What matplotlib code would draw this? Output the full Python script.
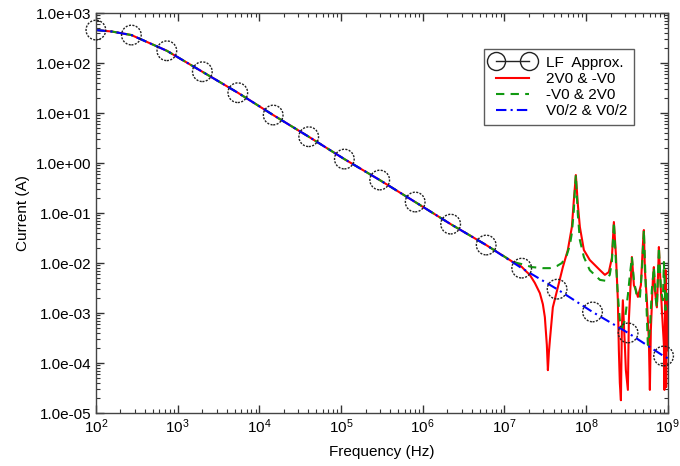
import numpy as np
import matplotlib
matplotlib.use("Agg")
import matplotlib.pyplot as plt
from matplotlib.lines import Line2D
from matplotlib.ticker import FuncFormatter, LogLocator, NullFormatter

plt.rcParams['font.family'] = ['Liberation Sans', 'DejaVu Sans']

# LF approximation (circles)
lf_freq = [100, 272, 739, 2010, 5460, 1.48e4, 4.03e4, 1.10e5, 2.98e5, 8.10e5,
           2.20e6, 5.99e6, 1.63e7, 4.42e7, 1.20e8, 3.27e8, 8.89e8]
lf_cur = [457, 363, 176, 67, 25.5, 9.12, 3.36, 1.20, 0.457, 0.166,
          0.060, 0.0229, 0.0079, 0.0030, 0.00105, 0.00040, 0.000138]

# V0/2 & V0/2 (blue), same as LF curve
blue_freq = [100, 157, 272, 739, 2010, 5460, 1.48e4, 4.03e4, 1.10e5, 2.98e5, 8.10e5,
             2.20e6, 5.99e6, 1.63e7, 4.42e7, 1.20e8, 3.27e8, 8.89e8, 1.0e9]
blue_cur = [457, 427, 363, 176, 67, 25.5, 9.12, 3.36, 1.20, 0.457, 0.166,
            0.060, 0.0229, 0.0079, 0.0030, 0.00105, 0.00040, 0.000138, 0.000125]

# low frequency part shared by red and green
low_freq = [100, 157, 272, 739, 2010, 5460, 1.48e4, 4.03e4, 1.10e5, 2.98e5, 8.10e5,
            2.20e6, 5.99e6]
low_cur = [457, 427, 363, 176, 67, 25.5, 9.12, 3.36, 1.20, 0.457, 0.166,
           0.060, 0.0229]

# -V0 & 2V0 (green), above 1e7
green_freq = [1.27e7, 1.64e7, 2.17e7, 2.96e7, 3.61e7, 4.39e7, 5.06e7, 5.82e7, 6.34e7, 6.70e7,
              7.09e7, 7.29e7, 7.50e7, 7.71e7, 7.94e7, 8.40e7, 9.40e7, 1.11e8, 1.48e8, 1.75e8,
              1.95e8, 2.07e8, 2.19e8, 2.32e8, 2.45e8, 2.59e8, 2.74e8, 2.99e8, 3.25e8, 3.44e8,
              3.64e8, 3.85e8, 4.19e8, 4.56e8, 4.82e8, 5.10e8, 5.40e8, 5.71e8, 6.04e8, 6.39e8,
              6.76e8, 7.16e8, 7.36e8, 7.79e8, 8.24e8, 8.72e8, 8.97e8, 9.4e8, 9.7e8, 1.0e9]
green_cur = [0.0105, 0.0095, 0.0083, 0.0079, 0.0079, 0.0087, 0.0100, 0.0145, 0.0229, 0.0398,
             0.115, 0.288, 0.575, 0.229, 0.0912, 0.0288, 0.0132, 0.0072, 0.0046, 0.0044,
             0.0058, 0.0105, 0.0661, 0.0105, 0.0023, 0.00072, 0.00050, 0.00072, 0.0023, 0.0058,
             0.0132, 0.0046, 0.0021, 0.0020, 0.0072, 0.0457, 0.0029, 0.00023, 0.00046, 0.0029,
             0.0083, 0.0018, 0.0013, 0.0209, 0.0029, 0.0018, 0.0105, 0.00115, 0.0029, 0.0018]

# 2V0 & -V0 (red), above 1e7
red_freq = [1.27e7, 1.42e7, 1.64e7, 1.83e7, 2.05e7, 2.36e7, 2.72e7, 2.96e7, 3.13e7, 3.31e7,
            3.41e7, 3.51e7, 3.61e7, 3.92e7, 4.52e7, 5.20e7, 5.98e7, 6.70e7, 7.09e7, 7.50e7,
            7.94e7, 8.40e7, 9.40e7, 1.11e8, 1.48e8, 1.70e8, 1.90e8, 2.07e8, 2.19e8, 2.32e8,
            2.45e8, 2.52e8, 2.59e8, 2.67e8, 2.74e8, 2.82e8, 2.99e8, 3.07e8, 3.25e8, 3.34e8,
            3.53e8, 3.64e8, 3.85e8, 4.07e8, 4.31e8, 4.69e8, 4.96e8, 5.10e8, 5.25e8, 5.55e8,
            5.87e8, 6.04e8, 6.21e8, 6.57e8, 6.76e8, 6.95e8, 7.36e8, 7.57e8, 7.79e8, 8.01e8,
            8.47e8, 8.97e8, 9.1e8, 9.25e8, 9.4e8, 9.55e8, 9.75e8, 1.0e9]
red_cur = [0.0105, 0.0100, 0.0083, 0.0069, 0.0058, 0.0040, 0.0025, 0.0015, 0.00083, 0.00023,
           0.000072, 0.000166, 0.00029, 0.0013, 0.0033, 0.0083, 0.0182, 0.0525, 0.182, 0.575,
           0.145, 0.0525, 0.0182, 0.0115, 0.0072, 0.0058, 0.0066, 0.0126, 0.0661, 0.0145,
           0.0018, 0.00018, 0.000040, 0.000018, 0.00046, 0.0018, 0.00021, 0.000072, 0.000029, 0.00072,
           0.0046, 0.0132, 0.0036, 0.0029, 0.0021, 0.0036, 0.0229, 0.0457, 0.0072, 0.0018,
           0.00029, 0.000029, 0.00046, 0.0046, 0.0083, 0.0029, 0.0013, 0.0046, 0.0209, 0.0072,
           0.00115, 0.00023, 0.000029, 0.00072, 0.0072, 0.000033, 0.0018, 0.00018]

fig = plt.figure(figsize=(6.8, 4.66), dpi=100)
ax = fig.add_axes([0.141, 0.1137, 0.841, 0.8583])

ax.plot(low_freq + red_freq, low_cur + red_cur, color='#ff0000', lw=1.5, label='2V0 & -V0')
ax.plot(low_freq + green_freq, low_cur + green_cur, color='#119911', lw=1.5,
        dashes=(4, 3), label='-V0 & 2V0')
ax.plot(blue_freq, blue_cur, color='#0000ff', lw=1.5, dashes=(5, 2, 1, 2), label='V0/2 & V0/2')
ax.scatter(lf_freq, lf_cur, s=200, facecolors='none', edgecolors='#222222',
           linewidths=1.0, linestyle=(0, (1.5, 1)), zorder=5, clip_on=False)

ax.set_xscale('log')
ax.set_yscale('log')
ax.set_xlim(1e2, 1e9)
ax.set_ylim(1e-5, 1e3)

ax.xaxis.set_minor_formatter(NullFormatter())
ax.yaxis.set_major_locator(LogLocator(base=10, numticks=12))
ax.yaxis.set_minor_locator(LogLocator(base=10, subs=np.arange(2, 10), numticks=12))
ax.yaxis.set_major_formatter(FuncFormatter(lambda v, p: '%.1e' % v))
ax.yaxis.set_minor_formatter(NullFormatter())

ax.tick_params(which='both', direction='in', top=True, right=True, colors='#333333',
               labelcolor='black', labelsize=11)
ax.tick_params(which='major', length=6, width=1)
ax.tick_params(which='minor', length=3, width=0.8)
for s in ax.spines.values():
    s.set_color('#444444')
    s.set_linewidth(1.0)

ax.set_xlabel('Frequency (Hz)', fontsize=11, labelpad=6)
ax.set_ylabel('Current (A)', fontsize=11, labelpad=4)

lf_handle = Line2D([], [], color='#222222', lw=1.0, marker='o', markersize=13,
                   mfc='none', mec='#222222', mew=1.0)
handles, labels = ax.get_legend_handles_labels()
leg = ax.legend([lf_handle] + handles, ['LF  Approx.'] + labels, loc='upper right',
                bbox_to_anchor=(0.955, 0.93), fontsize=11, frameon=True, fancybox=False,
                edgecolor='#333333', numpoints=2, handlelength=2.8, borderpad=0.45,
                labelspacing=0.15, handletextpad=0.8)
leg.get_frame().set_linewidth(1.0)

fig.savefig('out.png', dpi=100)
